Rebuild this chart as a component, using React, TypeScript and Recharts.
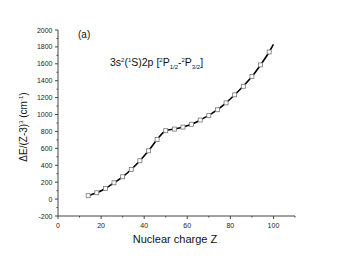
import { ComposedChart, Line, XAxis, YAxis } from 'recharts';

// Nuclear charge Z and ΔE/(Z-3)^3 values
const zValues = [14, 18, 22, 26, 30, 34, 38, 42, 46, 50, 54, 58, 62, 66, 70, 74, 78, 82, 86, 90, 94, 98, 100];
const energyValues = [40, 75, 126, 193, 264, 350, 453, 571, 705, 809, 828, 852, 885, 935, 990, 1057, 1138, 1233, 1334, 1449, 1587, 1740, 1830];
// last point (Z=100) only continues the line, it has no marker
const hasMarker = zValues.map((z) => z !== 100);

const xTicks = [0, 10, 20, 30, 40, 50, 60, 70, 80, 90, 100, 110];
const yTicks = [-200, -100, 0, 100, 200, 300, 400, 500, 600, 700, 800, 900, 1000, 1100, 1200, 1300, 1400, 1500, 1600, 1700, 1800, 1900, 2000];

const data = zValues.map((z, i) => ({ z, e: energyValues[i], marker: hasMarker[i] }));

const FONT = 'Arial, "Liberation Sans", sans-serif';
const AXIS_COLOR = '#444';

const YTick = (props: any) => {
  const { x, y, payload } = props;
  const major = payload.value % 200 === 0;
  const len = major ? 3 : 1.5;
  return (
    <g>
      <line x1={x - len} y1={y} x2={x} y2={y} stroke={AXIS_COLOR} strokeWidth={1} />
      {major && (
        <text x={x - 5.5} y={y} dy={2.5} textAnchor="end" fontSize={7} fill="#222" fontFamily={FONT}>
          {payload.value}
        </text>
      )}
    </g>
  );
};

const XTick = (props: any) => {
  const { x, y, payload } = props;
  const major = payload.value % 20 === 0;
  const len = major ? 3 : 1.5;
  return (
    <g>
      <line x1={x} y1={y} x2={x} y2={y + len} stroke={AXIS_COLOR} strokeWidth={1} />
      {major && (
        <text x={x} y={y + 9} dy={2.5} textAnchor="middle" fontSize={7} fill="#222" fontFamily={FONT}>
          {payload.value}
        </text>
      )}
    </g>
  );
};

const SquareDot = (props: any) => {
  const { cx, cy, payload, index } = props;
  if (!payload.marker) return <g key={`dot-${index}`} />;
  return (
    <rect key={`dot-${index}`} x={cx - 2} y={cy - 2} width={4} height={4} fill="#fff" stroke="#777" strokeWidth={0.8} />
  );
};

export default function App() {
  return (
    <div style={{ position: 'absolute', left: 0, top: 0, background: '#fff' }}>
      <ComposedChart width={342} height={262} data={data} margin={{ top: 30, right: 47, left: 8, bottom: 16 }}>
        <XAxis
          dataKey="z"
          type="number"
          domain={[0, 110]}
          ticks={xTicks}
          interval={0}
          tickSize={0}
          tickMargin={0}
          tickLine={false}
          tick={<XTick />}
          height={30}
          stroke={AXIS_COLOR}
          allowDataOverflow
        />
        <YAxis
          type="number"
          domain={[-200, 2000]}
          ticks={yTicks}
          interval={0}
          tickSize={0}
          tickMargin={0}
          tickLine={false}
          tick={<YTick />}
          width={50}
          stroke={AXIS_COLOR}
          allowDataOverflow
        />
        <Line
          dataKey="e"
          type="monotone"
          stroke="#000"
          strokeWidth={1.6}
          dot={<SquareDot />}
          activeDot={false}
          isAnimationActive={false}
        />
        <text x={78} y={38} fontSize={10} fontFamily={FONT} fill="#111">(a)</text>
        <text x={110} y={66} fontSize={10.5} fontFamily={FONT} fill="#111">
          3s<tspan dy={-4} fontSize={6}>2</tspan>
          <tspan dy={4}>(</tspan>
          <tspan dy={-4} fontSize={6}>1</tspan>
          <tspan dy={4}>S)2p [</tspan>
          <tspan dy={-4} fontSize={6}>2</tspan>
          <tspan dy={4}>P</tspan>
          <tspan dy={3} fontSize={6}>1/2</tspan>
          <tspan dy={-3}>-</tspan>
          <tspan dy={-4} fontSize={6}>2</tspan>
          <tspan dy={4}>P</tspan>
          <tspan dy={3} fontSize={6}>3/2</tspan>
          <tspan dy={-3}>]</tspan>
        </text>
        <text x={175} y={243} textAnchor="middle" fontSize={11} fontFamily={FONT} fill="#111">
          Nuclear charge Z
        </text>
        <text
          x={0}
          y={0}
          transform="translate(27,127) rotate(-90)"
          textAnchor="middle"
          fontSize={10}
          fontFamily={FONT}
          fill="#111"
        >
          ΔE/(Z-3)<tspan dy={-4} fontSize={6}>3</tspan>
          <tspan dy={4}> (cm</tspan>
          <tspan dy={-4} fontSize={6}>-1</tspan>
          <tspan dy={4}>)</tspan>
        </text>
      </ComposedChart>
    </div>
  );
}
